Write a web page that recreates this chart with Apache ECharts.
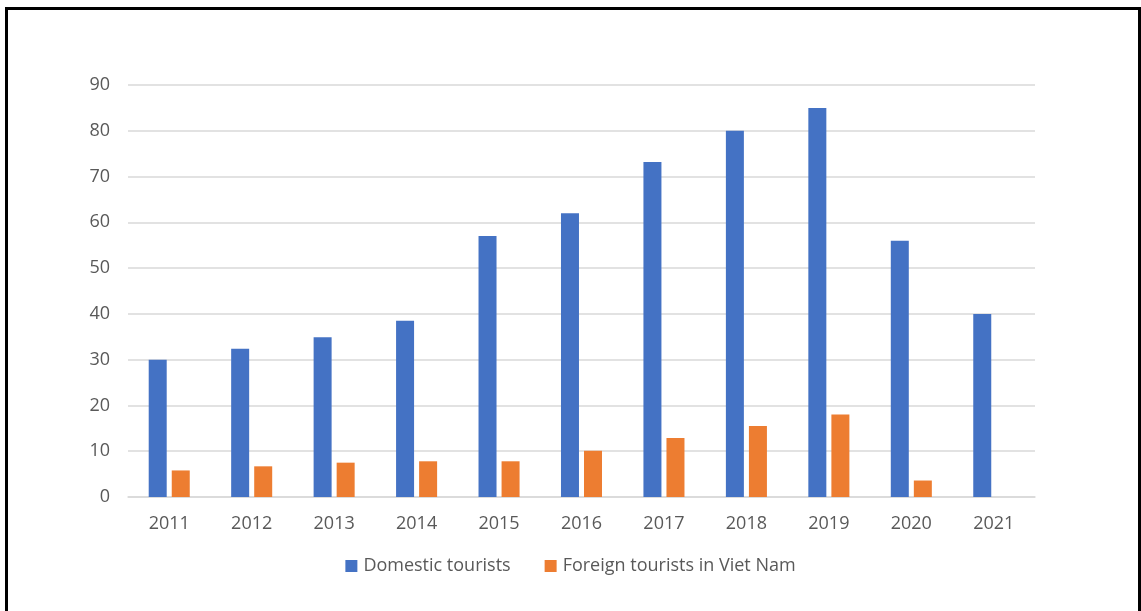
<!DOCTYPE html>
<html>
<head>
<meta charset="utf-8">
<script src="https://cdn.jsdelivr.net/npm/echarts@6/dist/echarts.min.js"></script>
<style>
html,body{margin:0;padding:0;background:#fff;}
#chart{width:1141px;height:611px;}
</style>
</head>
<body>
<div id="chart"></div>
<script>
const years = ['2011','2012','2013','2014','2015','2016','2017','2018','2019','2020','2021'];
const domestic = [30, 32.4, 34.9, 38.5, 57, 62, 73.2, 80, 85, 56, 40];
const foreign = [5.8, 6.7, 7.5, 7.8, 7.8, 10.1, 12.9, 15.5, 18, 3.6, null];
const seriesNames = ['Domestic tourists', 'Foreign tourists in Viet Nam'];

const chart = echarts.init(document.getElementById('chart'));
const font = '"Open Sans", "Noto Sans", sans-serif';
chart.setOption({
  animation: false,
  backgroundColor: '#fff',
  textStyle: {fontFamily: font},
  graphic: [{
    type: 'rect',
    shape: {x: 6.5, y: 8.5, width: 1133, height: 640},
    style: {fill: 'none', stroke: '#000', lineWidth: 3}
  }],
  grid: {left: 128, right: 106, top: 85, bottom: 114, containLabel: false},
  legend: {
    data: seriesNames,
    top: 552,
    left: 'center',
    icon: 'rect',
    itemWidth: 12,
    itemHeight: 12,
    itemGap: 34,
    textStyle: {color: '#595959', fontSize: 18, fontFamily: font, padding: [0, 0, 0, 1]},
  },
  xAxis: {
    type: 'category',
    data: years,
    axisLine: {lineStyle: {color: '#d9d9d9', width: 1.5}},
    axisTick: {show: false},
    axisLabel: {color: '#595959', fontSize: 18, margin: 18, fontFamily: font}
  },
  yAxis: {
    type: 'value',
    min: 0, max: 90, interval: 10,
    axisLine: {show: false},
    axisTick: {show: false},
    splitLine: {lineStyle: {color: '#d9d9d9', width: 1.5}},
    axisLabel: {color: '#595959', fontSize: 18, margin: 18, fontFamily: font}
  },
  series: [
    {name: seriesNames[0], type: 'bar', data: domestic, barWidth: 18, barGap: '28%',
     itemStyle: {color: '#4472c4'}},
    {name: seriesNames[1], type: 'bar', data: foreign, barWidth: 18, barGap: '28%',
     itemStyle: {color: '#ed7d31'}}
  ]
});
</script>
</body>
</html>
